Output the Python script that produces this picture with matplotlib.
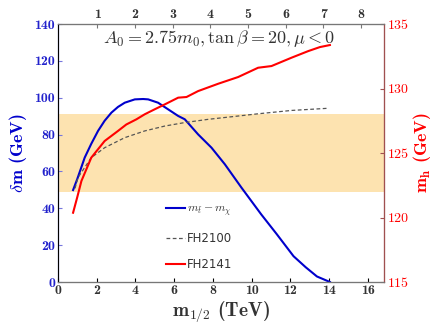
import matplotlib
matplotlib.use("Agg")
import matplotlib.pyplot as plt

plt.rcParams['mathtext.fontset'] = 'cm'

# m_stop - m_chi (GeV), left axis
m12_dm = [0.78, 1.0, 1.38, 1.72, 2.07, 2.41, 2.76, 3.1, 3.45, 3.97, 4.4, 4.66, 5.17,
          5.69, 6.21, 6.55, 7.24, 7.93, 8.62, 9.48, 10.5, 11.3, 12.17, 12.8, 13.38, 14.05]
dm = [49.9, 56.0, 67.5, 75.0, 82.0, 87.5, 91.9, 95.0, 97.3, 99.1, 99.3, 99.1, 97.3,
      93.7, 90.1, 88.3, 80.1, 72.9, 63.9, 51.2, 36.7, 26.0, 14.0, 8.0, 3.0, 0.0]

# FH2141 Higgs mass (GeV), right axis
m12_h = [0.78, 1.0, 1.21, 1.72, 2.41, 3.1, 3.53, 4.05, 4.48, 5.0, 5.52, 6.21, 6.64,
         7.24, 8.28, 9.31, 10.34, 11.03, 12.07, 12.93, 13.53, 14.05]
mh_2141 = [120.37, 121.6, 122.83, 124.64, 125.93, 126.71, 127.21, 127.61, 128.0, 128.39,
           128.77, 129.29, 129.34, 129.8, 130.37, 130.89, 131.61, 131.74, 132.39, 132.9,
           133.21, 133.37]

# FH2100 Higgs mass (GeV), right axis
m12_old = [0.88, 1.03, 1.72, 2.41, 3.45, 4.48, 5.52, 6.55, 7.76, 8.97, 10.34, 12.07, 13.88]
mh_2100 = [122.26, 123.09, 124.64, 125.41, 126.19, 126.71, 127.09, 127.36, 127.61,
           127.81, 128.04, 128.3, 128.46]

band = [122.0, 128.0]  # Higgs mass band (GeV)

bottom_ticks = [0, 2, 4, 6, 8, 10, 12, 14, 16]
top_ticks = [1, 2, 3, 4, 5, 6, 7, 8]

blue = '#0000cc'
red = '#ff0000'

fig = plt.figure(figsize=(4.36, 3.27), dpi=100)
ax = fig.add_axes([0.133, 0.1376, 0.748, 0.789])
ax2 = ax.twinx()
ax3 = ax.twiny()

# band drawn in left-axis units (1 GeV of m_h = 7 units of dm)
ax.axhspan((band[0] - 115) * 7, (band[1] - 115) * 7, color='#fde3b0', lw=0, zorder=0)
l1, = ax.plot(m12_dm, dm, color=blue, lw=1.5, label=r'$m_{\tilde t}-m_\chi$')
l2, = ax2.plot(m12_old, mh_2100, color='#555555', lw=0.9, ls=(0, (3, 2)), label='FH2100')
l3, = ax2.plot(m12_h, mh_2141, color=red, lw=1.5, label='FH2141')

ax.set_xlim(0, 16.85)
ax.set_ylim(0, 140)
ax2.set_ylim(115, 135)
ax3.set_xlim(-0.05, 8.62)

ax.set_xticks(bottom_ticks)
ax.set_yticks(range(0, 141, 20))
ax2.set_yticks([115, 120, 125, 130, 135])
ax3.set_xticks(top_ticks)

for lab in ax.get_xticklabels() + ax3.get_xticklabels():
    lab.set_fontfamily('cmb10'); lab.set_fontsize(10); lab.set_color('#333333')
for lab in ax.get_yticklabels():
    lab.set_fontfamily('cmb10'); lab.set_fontsize(10); lab.set_color('#2222cc')
for lab in ax2.get_yticklabels():
    lab.set_fontfamily('cmr10'); lab.set_fontsize(10); lab.set_color(red)

ax.tick_params(axis='both', direction='in', length=3, pad=2)
ax.tick_params(axis='y', colors='#7777dd', labelcolor='#2222cc')
ax2.tick_params(axis='y', direction='in', length=3, colors='#a05050', labelcolor=red, pad=3)
ax3.tick_params(axis='x', direction='in', length=3, colors='#777777', labelcolor='#333333', pad=2)

ax.spines['left'].set_color('#7777dd')
ax2.spines['left'].set_color('#7777dd')
ax2.spines['right'].set_color('#a05050')
for a in (ax, ax2, ax3):
    a.spines['bottom'].set_color('#777777')
    a.spines['top'].set_color('#777777')
ax3.spines['right'].set_color('#a05050')
ax.spines['right'].set_color('#a05050')

ax.set_xlabel(r'$\mathbf{m_{1/2}}$ (TeV)', family='cmb10', fontsize=14, color='#333333', labelpad=2)
ax.set_ylabel(r'$\delta$m (GeV)', family='cmb10', fontsize=13, color=blue, labelpad=4)
ax2.set_ylabel(r'$\mathbf{m_h}$ (GeV)', family='cmb10', fontsize=13, color=red, labelpad=1)

ax.text(0.494, 0.945, r'$A_0 = 2.75m_0, \tan\beta = 20, \mu < 0$', transform=ax.transAxes,
        ha='center', va='center', fontsize=13, color='#333333')

leg = ax2.legend(handles=[l1, l2, l3], loc='upper left', bbox_to_anchor=(0.3, 0.35),
                 frameon=False, handlelength=1.6, handletextpad=0.1, labelspacing=1.15,
                 fontsize=8.5)
for t in leg.get_texts():
    t.set_color('#333333')

fig.savefig('out.png', dpi=100)
